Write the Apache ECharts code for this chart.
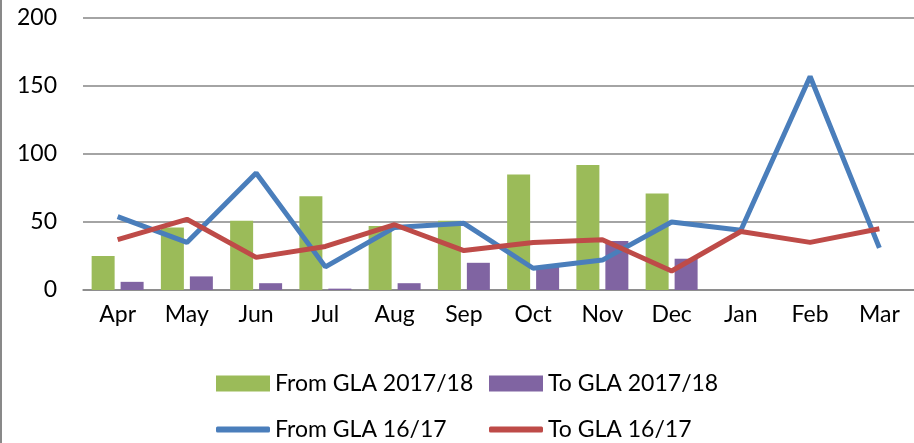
<!DOCTYPE html>
<html>
<head>
<meta charset="utf-8">
<script src="https://cdn.jsdelivr.net/npm/echarts@6/dist/echarts.min.js"></script>
<style>
html,body{margin:0;padding:0;background:#fff;}
#chart{width:914px;height:443px;}
</style>
</head>
<body>
<div id="chart"></div>
<script>
var months = ['Apr','May','Jun','Jul','Aug','Sep','Oct','Nov','Dec','Jan','Feb','Mar'];
var fromGla1718 = [25, 46, 51, 69, 47, 51, 85, 92, 71, null, null, null];
var toGla1718 = [6, 10, 5, 1, 5, 20, 17, 36, 23, null, null, null];
var fromGla1617 = [54, 35, 86, 17, 46, 49, 16, 22, 50, 44, 157, 31];
var toGla1617 = [37, 52, 24, 32, 48, 29, 35, 37, 14, 43, 35, 45];
var yTicks = [0, 50, 100, 150, 200];

var font = 'Lato, "Open Sans", sans-serif';
var chart = echarts.init(document.getElementById('chart'));

// one legend per entry so the two rows line up like the original
function legendItem(name, left, top, icon) {
    return {
        data: [name],
        left: left,
        top: top,
        itemWidth: 54,
        itemHeight: icon === 'bar' ? 16 : 6,
        itemGap: 0,
        icon: icon === 'bar' ? 'rect' : 'roundRect',
        padding: 0,
        textStyle: { fontFamily: font, fontSize: 23, color: '#000', padding: [0, 0, 0, 0] }
    };
}

chart.setOption({
    animation: false,
    grid: { left: 83, right: 0, top: 18, bottom: 153 },
    xAxis: {
        type: 'category',
        data: months,
        axisLine: { lineStyle: { color: '#868686', width: 1.5 } },
        axisTick: { show: false },
        axisLabel: { fontFamily: font, fontSize: 23, color: '#000', margin: 13 }
    },
    yAxis: {
        type: 'value',
        min: yTicks[0],
        max: yTicks[yTicks.length - 1],
        interval: 50,
        axisLine: { show: false },
        axisTick: { show: false },
        splitLine: { lineStyle: { color: '#868686', width: 1.5 } },
        axisLabel: { fontFamily: font, fontSize: 23, color: '#000', margin: 26 }
    },
    legend: [
        legendItem('From GLA 2017/18', 216, 372, 'bar'),
        legendItem('To GLA 2017/18', 489, 372, 'bar'),
        legendItem('From GLA 16/17', 216, 418, 'line'),
        legendItem('To GLA 16/17', 489, 418, 'line')
    ],
    graphic: [{
        type: 'line',
        shape: { x1: 1, y1: 0, x2: 1, y2: 443 },
        style: { stroke: '#898989', lineWidth: 2 }
    }],
    series: [
        {
            name: 'From GLA 2017/18', type: 'bar', data: fromGla1718,
            barWidth: 23, barGap: '26%',
            itemStyle: { color: '#9bbb59' }
        },
        {
            name: 'To GLA 2017/18', type: 'bar', data: toGla1718,
            barWidth: 23,
            itemStyle: { color: '#8064a2' }
        },
        {
            name: 'From GLA 16/17', type: 'line', data: fromGla1617,
            symbol: 'none',
            lineStyle: { color: '#4a7ebb', width: 5 },
            itemStyle: { color: '#4a7ebb' }
        },
        {
            name: 'To GLA 16/17', type: 'line', data: toGla1617,
            symbol: 'none',
            lineStyle: { color: '#be4b48', width: 5 },
            itemStyle: { color: '#be4b48' }
        }
    ]
});
</script>
</body>
</html>
